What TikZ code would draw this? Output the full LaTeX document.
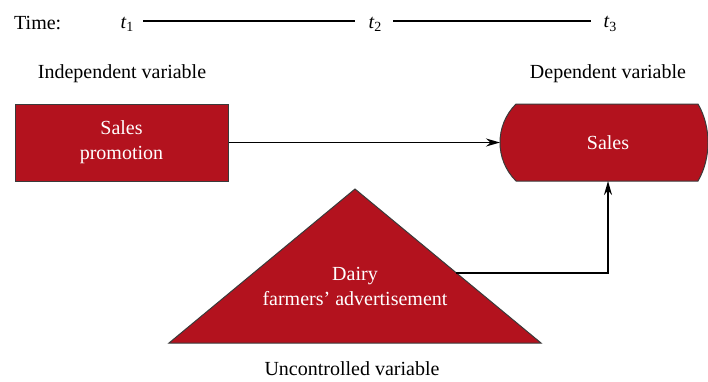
\documentclass[tikz,border=0pt]{standalone}
\usepackage{fontspec}
\setmainfont{Liberation Serif}
\usetikzlibrary{arrows.meta,calc}
\definecolor{boxred}{HTML}{B3121E}
\definecolor{edgegray}{HTML}{3A3A3A}
\newcommand{\tsub}[1]{\textit{t}\raisebox{-0.35ex}{\fontsize{14}{14}\selectfont #1}}
\begin{document}
\begin{tikzpicture}[x=1pt,y=-1pt,
  lbl/.style={font=\fontsize{20}{24}\selectfont, text=black, inner sep=0pt},
  intext/.style={font=\fontsize{20}{25}\selectfont, text=white, align=center},
  shapefill/.style={fill=boxred, draw=edgegray, line width=1pt},
  conn/.style={line width=1.6pt, -{Stealth[length=14pt,width=8pt]}},
  timeline/.style={line width=1.8pt}]
\useasboundingbox (0,0) rectangle (708,381);
% time axis
\node[lbl, anchor=west] (time) at (14,23) {Time:};
\node[lbl] (t1) at (127,24) {\tsub{1}};
\node[lbl] (t2) at (375,24) {\tsub{2}};
\node[lbl] (t3) at (610,24) {\tsub{3}};
\coordinate (a1) at (143,21);
\coordinate (a2) at (355,21);
\coordinate (b1) at (393,21);
\coordinate (b2) at (591,21);
\draw[timeline] (a1) -- (a2);
\draw[timeline] (b1) -- (b2);
% labels
\node[lbl] (indep) at (122,74) {Independent variable};
\node[lbl] (dep) at (608,74) {Dependent variable};
\node[lbl] (unc) at (352,369) {Uncontrolled variable};
% independent box
\node[shapefill, intext, minimum width=213pt, minimum height=77pt, inner sep=0pt] (promo) at (121.5,142.5) {Sales\\promotion};
% dependent shape
\coordinate (sw) at (500,142.5);
\draw[shapefill] (516,104) -- (698,104) .. controls (705,116) and (708,130) .. (708,142.5)
  .. controls (708,155) and (705,169) .. (698,181) -- (516,181)
  .. controls (505,170) and (500,156) .. (500,142.5)
  .. controls (500,129) and (505,115) .. (516,104) -- cycle;
\node[intext] (sales) at (608,142.5) {Sales};
% triangle
\coordinate (apex) at (355,189);
\coordinate (bl) at (169,343);
\coordinate (br) at (541,343);
\draw[shapefill] (apex) -- (br) -- (bl) -- cycle;
\node[intext] (dairy) at (355,286) {Dairy\\farmers' advertisement};
\coordinate (tout) at ($(apex)!0.545!(br)$);
\coordinate (sbot) at (608,181);
% connectors
\draw[conn] (promo.east) -- (sw);
\draw[conn] (tout) -- (tout -| sbot) -- (sbot);
\end{tikzpicture}
\end{document}
